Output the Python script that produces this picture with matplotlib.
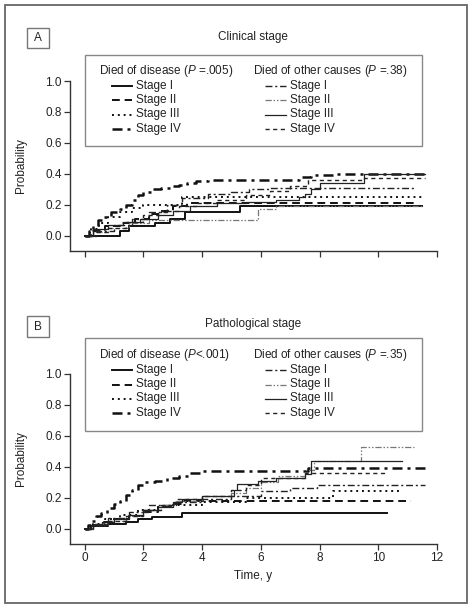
import matplotlib
matplotlib.use("Agg")
import matplotlib.pyplot as plt
from matplotlib.lines import Line2D
from matplotlib.patches import Rectangle

plt.rcParams['font.family'] = ['Liberation Sans', 'DejaVu Sans']
plt.rcParams['mathtext.fontset'] = 'custom'
plt.rcParams['mathtext.rm'] = 'Liberation Sans'
plt.rcParams['mathtext.it'] = 'Liberation Sans:italic'

# ---- data (time in years, cumulative probability) ----
stages = ['Stage I', 'Stage II', 'Stage III', 'Stage IV']

# A: clinical stage
clin_dis_I_t = [0, 1.2, 1.5, 2.4, 2.9, 3.4, 5.3, 11.5]
clin_dis_I_p = [0, 0.03, 0.06, 0.08, 0.11, 0.155, 0.19, 0.19]
clin_dis_II_t = [0, 0.3, 0.7, 1.2, 1.7, 2.2, 2.6, 3.0, 3.5, 11.2]
clin_dis_II_p = [0, 0.03, 0.06, 0.08, 0.11, 0.14, 0.16, 0.19, 0.21, 0.21]
clin_dis_III_t = [0, 0.2, 0.5, 0.8, 1.2, 1.6, 2.0, 3.3, 11.5]
clin_dis_III_p = [0, 0.04, 0.08, 0.12, 0.15, 0.18, 0.20, 0.25, 0.25]
clin_dis_IV_t = [0, 0.15, 0.3, 0.45, 0.6, 0.9, 1.2, 1.4, 1.6, 1.8, 2.0, 2.3, 2.6,
                 2.9, 3.2, 3.5, 3.8, 4.2, 6.0, 7.3, 7.7, 8.5, 11.6]
clin_dis_IV_p = [0, 0.03, 0.06, 0.10, 0.12, 0.15, 0.17, 0.20, 0.23, 0.26, 0.28, 0.30, 0.31,
                 0.32, 0.33, 0.34, 0.35, 0.36, 0.36, 0.38, 0.39, 0.40, 0.40]
clin_oth_I_t = [0, 0.4, 1.0, 1.6, 2.2, 2.8, 3.3, 4.2, 5.0, 5.6, 6.3, 11.3]
clin_oth_I_p = [0, 0.03, 0.07, 0.11, 0.15, 0.20, 0.24, 0.27, 0.28, 0.30, 0.31, 0.31]
clin_oth_II_t = [0, 0.3, 0.8, 1.5, 2.2, 5.9, 6.5, 11.5]
clin_oth_II_p = [0, 0.02, 0.05, 0.08, 0.10, 0.17, 0.19, 0.19]
clin_oth_III_t = [0, 0.3, 0.8, 1.3, 1.9, 2.5, 3.0, 3.6, 4.5, 5.5, 6.5, 7.3, 7.5, 7.7,
                  8.0, 9.5, 11.6]
clin_oth_III_p = [0, 0.04, 0.07, 0.09, 0.11, 0.13, 0.16, 0.19, 0.21, 0.22, 0.23, 0.25, 0.27,
                  0.30, 0.34, 0.40, 0.40]
clin_oth_IV_t = [0, 0.3, 0.8, 1.4, 2.0, 2.6, 3.2, 3.8, 4.5, 5.5, 6.3, 7.0, 7.6, 9.5, 11.6]
clin_oth_IV_p = [0, 0.02, 0.05, 0.09, 0.13, 0.16, 0.19, 0.21, 0.23, 0.26, 0.29, 0.32, 0.36,
                 0.37, 0.37]

# B: pathological stage
path_dis_I_t = [0, 0.2, 0.8, 1.4, 1.8, 2.3, 3.3, 10.3]
path_dis_I_p = [0, 0.015, 0.03, 0.045, 0.06, 0.075, 0.10, 0.10]
path_dis_II_t = [0, 0.2, 0.6, 1.0, 1.5, 2.0, 2.5, 3.0, 3.3, 11.1]
path_dis_II_p = [0, 0.02, 0.04, 0.06, 0.08, 0.11, 0.14, 0.16, 0.18, 0.18]
path_dis_III_t = [0, 0.3, 0.7, 1.2, 1.8, 2.5, 3.0, 4.0, 5.5, 8.45, 10.8]
path_dis_III_p = [0, 0.03, 0.06, 0.09, 0.12, 0.14, 0.15, 0.17, 0.20, 0.24, 0.24]
path_dis_IV_t = [0, 0.1, 0.25, 0.4, 0.55, 0.75, 1.0, 1.2, 1.4, 1.6, 1.8, 2.0, 2.4, 2.8,
                 3.2, 3.6, 4.0, 7.6, 11.6]
path_dis_IV_p = [0, 0.02, 0.05, 0.08, 0.10, 0.13, 0.16, 0.18, 0.22, 0.25, 0.28, 0.30, 0.31,
                 0.33, 0.34, 0.36, 0.37, 0.39, 0.39]
path_oth_I_t = [0, 0.3, 0.8, 1.5, 2.2, 3.0, 4.0, 5.0, 6.0, 7.0, 7.9, 11.6]
path_oth_I_p = [0, 0.03, 0.07, 0.11, 0.15, 0.17, 0.19, 0.21, 0.24, 0.26, 0.28, 0.28]
path_oth_II_t = [0, 0.3, 0.8, 1.4, 2.0, 2.6, 3.1, 4.0, 5.0, 5.5, 6.0, 6.6, 7.5, 7.8, 9.4, 11.2]
path_oth_II_p = [0, 0.02, 0.05, 0.08, 0.12, 0.15, 0.18, 0.21, 0.23, 0.26, 0.30, 0.34, 0.38,
                 0.44, 0.53, 0.53]
path_oth_III_t = [0, 0.2, 0.6, 1.0, 1.5, 2.0, 2.5, 3.0, 3.3, 4.0, 5.1, 5.2, 5.9, 6.5, 7.5,
                  7.7, 10.8]
path_oth_III_p = [0, 0.02, 0.04, 0.06, 0.09, 0.12, 0.14, 0.17, 0.19, 0.21, 0.25, 0.29, 0.31,
                  0.33, 0.35, 0.44, 0.44]
path_oth_IV_t = [0, 0.3, 0.8, 1.4, 2.0, 2.6, 3.1, 4.0, 5.0, 5.5, 6.0, 7.5, 10.3]
path_oth_IV_p = [0, 0.02, 0.05, 0.08, 0.12, 0.15, 0.19, 0.21, 0.25, 0.28, 0.33, 0.36, 0.36]

panels = [
    dict(letter='A', title='Clinical stage',
         p_dis='$P$ =.005', p_oth='$P$ =.38',
         dis=[(clin_dis_I_t, clin_dis_I_p), (clin_dis_II_t, clin_dis_II_p),
              (clin_dis_III_t, clin_dis_III_p), (clin_dis_IV_t, clin_dis_IV_p)],
         oth=[(clin_oth_I_t, clin_oth_I_p), (clin_oth_II_t, clin_oth_II_p),
              (clin_oth_III_t, clin_oth_III_p), (clin_oth_IV_t, clin_oth_IV_p)]),
    dict(letter='B', title='Pathological stage',
         p_dis='$P$<.001', p_oth='$P$ =.35',
         dis=[(path_dis_I_t, path_dis_I_p), (path_dis_II_t, path_dis_II_p),
              (path_dis_III_t, path_dis_III_p), (path_dis_IV_t, path_dis_IV_p)],
         oth=[(path_oth_I_t, path_oth_I_p), (path_oth_II_t, path_oth_II_p),
              (path_oth_III_t, path_oth_III_p), (path_oth_IV_t, path_oth_IV_p)]),
]

# line styles: died of disease (heavy) / died of other causes (light)
dis_styles = [dict(ls='-', lw=1.4, color='#111111'),
              dict(ls=(0, (4, 2.5)), lw=1.4, color='#111111'),
              dict(ls=(0, (1, 2)), lw=1.4, color='#111111'),
              dict(ls=(0, (4, 2, 1.2, 2)), lw=1.8, color='#111111')]
oth_styles = [dict(ls=(0, (5, 2, 1.5, 2)), lw=1.0, color='#222222'),
              dict(ls=(0, (5, 1.5, 1.2, 1.5, 1.2, 1.5)), lw=0.9, color='#777777'),
              dict(ls='-', lw=0.9, color='#222222'),
              dict(ls=(0, (3, 2.5)), lw=1.0, color='#222222')]

W, H = 474, 610
fig = plt.figure(figsize=(W / 100, H / 100), dpi=100)


def fx(x):
    return x / W


def fy(y):
    return 1 - y / H


txt = '#222222'
fs = 8.5

# outer frame
fig.add_artist(Rectangle((fx(5), fy(603)), 462 / W, 598 / H, transform=fig.transFigure,
                         fill=False, edgecolor='#666666', lw=1.3))

# pixel layout of each panel
layout = [dict(ax=(81, 251), box=(28, 48), title=37, leg=(55, 146), head=71),
          dict(ax=(374, 544), box=(316, 337), title=324, leg=(338, 431), head=355)]

for pan, lay in zip(panels, layout):
    top, bot = lay['ax']
    ax = fig.add_axes([fx(70), fy(bot), fx(437) - fx(70), (bot - top) / H])
    for (t, p), st in zip(pan['dis'], dis_styles):
        ax.step(t, p, where='post', linestyle=st['ls'], lw=st['lw'], color=st['color'])
    for (t, p), st in zip(pan['oth'], oth_styles):
        ax.step(t, p, where='post', linestyle=st['ls'], lw=st['lw'], color=st['color'])
    ax.set_xlim(-0.5, 12)
    ax.set_ylim(-0.1, 1.0)
    ax.set_xticks(range(0, 13, 2))
    ax.set_yticks([0.0, 0.2, 0.4, 0.6, 0.8, 1.0])
    ax.set_yticklabels(['0.0', '0.2', '0.4', '0.6', '0.8', '1.0'])
    ax.spines['top'].set_visible(False)
    ax.spines['right'].set_visible(False)
    for s in ['left', 'bottom']:
        ax.spines[s].set_color('#333333')
        ax.spines[s].set_linewidth(1.0)
    ax.tick_params(direction='out', length=4, width=0.9, color='#333333',
                   labelsize=fs, labelcolor=txt, pad=2)
    ax.set_ylabel('Probability', fontsize=fs, color=txt, labelpad=13)
    if pan['letter'] == 'A':
        ax.tick_params(axis='x', labelbottom=False)
    else:
        ax.set_xlabel('Time, y', fontsize=fs, color=txt, labelpad=4)

    # panel letter box
    b0, b1 = lay['box']
    fig.add_artist(Rectangle((fx(27), fy(b1)), (49 - 27) / W, (b1 - b0) / H,
                             transform=fig.transFigure, fill=False,
                             edgecolor='#777777', lw=1.0))
    fig.text(fx(38), fy((b0 + b1) / 2), pan['letter'], ha='center', va='center',
             fontsize=fs, color=txt)
    fig.text(fx(253), fy(lay['title']), pan['title'], ha='center', va='center',
             fontsize=fs, color=txt)

    # legend box
    l0, l1 = lay['leg']
    fig.add_artist(Rectangle((fx(85), fy(l1)), (422 - 85) / W, (l1 - l0) / H,
                             transform=fig.transFigure, facecolor='white',
                             edgecolor='#888888', lw=1.0, zorder=5))
    hy = lay['head']
    fig.text(fx(99), fy(hy), 'Died of disease (' + pan['p_dis'] + ')', ha='left',
             va='center', fontsize=fs, color=txt, zorder=6)
    fig.text(fx(253), fy(hy), 'Died of other causes (' + pan['p_oth'] + ')', ha='left',
             va='center', fontsize=fs, color=txt, zorder=6)
    offs = [15, 29.5, 43.5, 58]
    for i, name in enumerate(stages):
        yy = fy(hy + offs[i])
        for (x0, x1, xt), st in zip([(111.5, 132, 136), (265, 286, 289.5)],
                                    [dis_styles[i], oth_styles[i]]):
            fig.add_artist(Line2D([fx(x0), fx(x1)], [yy, yy], transform=fig.transFigure,
                                  linestyle=st['ls'], lw=st['lw'], color=st['color'],
                                  zorder=6))
            fig.text(fx(xt), yy, name, ha='left', va='center', fontsize=fs, color=txt,
                     zorder=6)

fig.savefig('out.png', dpi=100)
